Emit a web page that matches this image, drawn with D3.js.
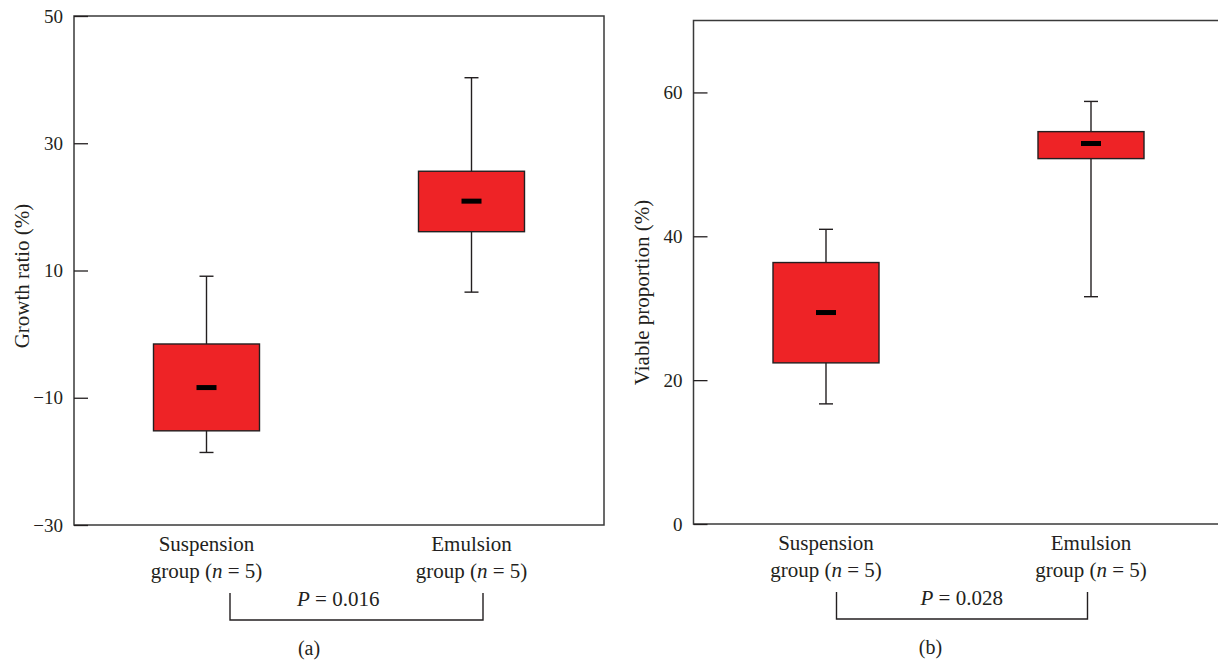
<!DOCTYPE html>
<html>
<head>
<meta charset="utf-8">
<script src="https://cdn.jsdelivr.net/npm/d3@7"></script>
<style>
  body { margin: 0; background: #fff; }
  svg text { fill: #231f20; }
</style>
</head>
<body>
<div id="chart"></div>
<script>
!function () {
  'use strict';

  // data
  var groups = ["Suspension", "Emulsion"];
  var groupN = [5, 5];

  var growthMin    = [-18.6, 6.6];
  var growthQ1     = [-15.2, 16.1];
  var growthMedian = [-8.4, 20.9];
  var growthQ3     = [-1.55, 25.6];
  var growthMax    = [9.1, 40.3];
  var growthTicks  = [-30, -10, 10, 30, 50];

  var viableMin    = [16.7, 31.6];
  var viableQ1     = [22.4, 50.8];
  var viableMedian = [29.4, 52.9];
  var viableQ3     = [36.35, 54.55];
  var viableMax    = [40.97, 58.75];
  var viableTicks  = [0, 20, 40, 60];

  var pValues = ["0.016", "0.028"];

  var serif = "Liberation Serif";

  var svg = d3.select("#chart").append("svg")
    .attr("width", 1218)
    .attr("height", 661)
    .attr("font-family", serif);

  function boxPanel (options) {
    var g = svg.append("g")
      .attr("transform", "translate(" + options.left + "," + options.top + ")");

    var w = options.width, h = options.height;

    var x = d3.scalePoint().domain(groups).range([0, w]).padding(0.5);
    var y = d3.scaleLinear().domain(options.domain).range([h, 0]);

    var rows = groups.map(function (name, i) {
      return {
        name: name, n: groupN[i],
        min: options.min[i], q1: options.q1[i], med: options.median[i],
        q3: options.q3[i], max: options.max[i]
      };
    });

    // frame
    g.append("rect")
      .attr("width", w).attr("height", h)
      .attr("fill", "none")
      .attr("stroke", "#3a3a3a")
      .attr("stroke-width", 1.5);

    var axis = g.append("g")
      .call(d3.axisLeft(y).tickValues(options.ticks).tickSize(-14).tickPadding(11)
        .tickFormat(function (d) { return d < 0 ? "\u2212" + Math.abs(d) : d; }))
      .attr("font-family", serif)
      .attr("font-size", 19);
    axis.select(".domain").remove();
    axis.selectAll(".tick line").attr("stroke", "#231f20").attr("stroke-width", 1.3);
    axis.selectAll(".tick text").attr("fill", "#231f20");

    var box = g.selectAll("g.box")
      .data(rows)
      .enter().append("g")
      .attr("class", "box")
      .attr("transform", function (d) { return "translate(" + x(d.name) + ",0)"; });

    box.append("line")
      .attr("y1", function (d) { return y(d.max); })
      .attr("y2", function (d) { return y(d.min); })
      .attr("stroke", "#231f20").attr("stroke-width", 1.4);

    box.selectAll("line.cap")
      .data(function (d) { return [d.min, d.max]; })
      .enter().append("line")
      .attr("class", "cap")
      .attr("x1", -7).attr("x2", 7)
      .attr("y1", function (v) { return y(v); })
      .attr("y2", function (v) { return y(v); })
      .attr("stroke", "#231f20").attr("stroke-width", 1.4);

    box.append("rect")
      .attr("x", -53).attr("width", 106)
      .attr("y", function (d) { return y(d.q3); })
      .attr("height", function (d) { return y(d.q1) - y(d.q3); })
      .attr("fill", "#ee2326")
      .attr("stroke", "#231f20").attr("stroke-width", 1.4);

    box.append("rect")
      .attr("x", -10).attr("width", 20)
      .attr("y", function (d) { return y(d.med) - 2.5; })
      .attr("height", 5)
      .attr("fill", "#000");

    // category labels
    var lab = g.selectAll("text.cat")
      .data(rows)
      .enter().append("text")
      .attr("class", "cat")
      .attr("text-anchor", "middle")
      .attr("font-size", 21)
      .attr("x", function (d) { return x(d.name); })
      .attr("y", h + 26);
    lab.append("tspan").text(function (d) { return d.name; });
    var l2 = lab.append("tspan")
      .attr("x", function (d) { return x(d.name); })
      .attr("dy", 27);
    l2.append("tspan").text("group (");
    l2.append("tspan").attr("font-style", "italic").text("n");
    l2.append("tspan").text(function (d) { return " = " + d.n + ")"; });

    // y label
    g.append("text")
      .attr("transform", "translate(" + options.labelX + "," + options.labelY + ") rotate(-90)")
      .attr("text-anchor", "middle")
      .attr("font-size", 21)
      .text(options.label);

    // significance bracket
    var b = options.bracket;
    g.append("path")
      .attr("d", "M" + b[0] + "," + (h + 68) + "V" + (h + 95) + "H" + b[1] + "V" + (h + 68))
      .attr("fill", "none")
      .attr("stroke", "#231f20").attr("stroke-width", 1.4);

    var pt = g.append("text")
      .attr("x", options.pX).attr("y", h + 81)
      .attr("font-size", 21);
    pt.append("tspan").attr("font-style", "italic").text("P");
    pt.append("tspan").text(" = " + options.p);

    g.append("text")
      .attr("x", options.tagX).attr("y", h + 130)
      .attr("text-anchor", "middle")
      .attr("font-size", 20)
      .text(options.tag);
  }

  boxPanel({
    left: 74, top: 16, width: 530, height: 509,
    domain: [-30, 50], ticks: growthTicks,
    min: growthMin, q1: growthQ1, median: growthMedian, q3: growthQ3, max: growthMax,
    label: "Growth ratio (%)", labelX: -45, labelY: 260,
    bracket: [156, 409], pX: 223, p: pValues[0],
    tagX: 235, tag: "(a)"
  });

  boxPanel({
    left: 693.5, top: 20.5, width: 530, height: 503.5,
    domain: [0, 70], ticks: viableTicks,
    min: viableMin, q1: viableQ1, median: viableMedian, q3: viableQ3, max: viableMax,
    label: "Viable proportion (%)", labelX: -45, labelY: 272,
    bracket: [143, 394], pX: 227, p: pValues[1],
    tagX: 237, tag: "(b)"
  });

}();
</script>
</body>
</html>
